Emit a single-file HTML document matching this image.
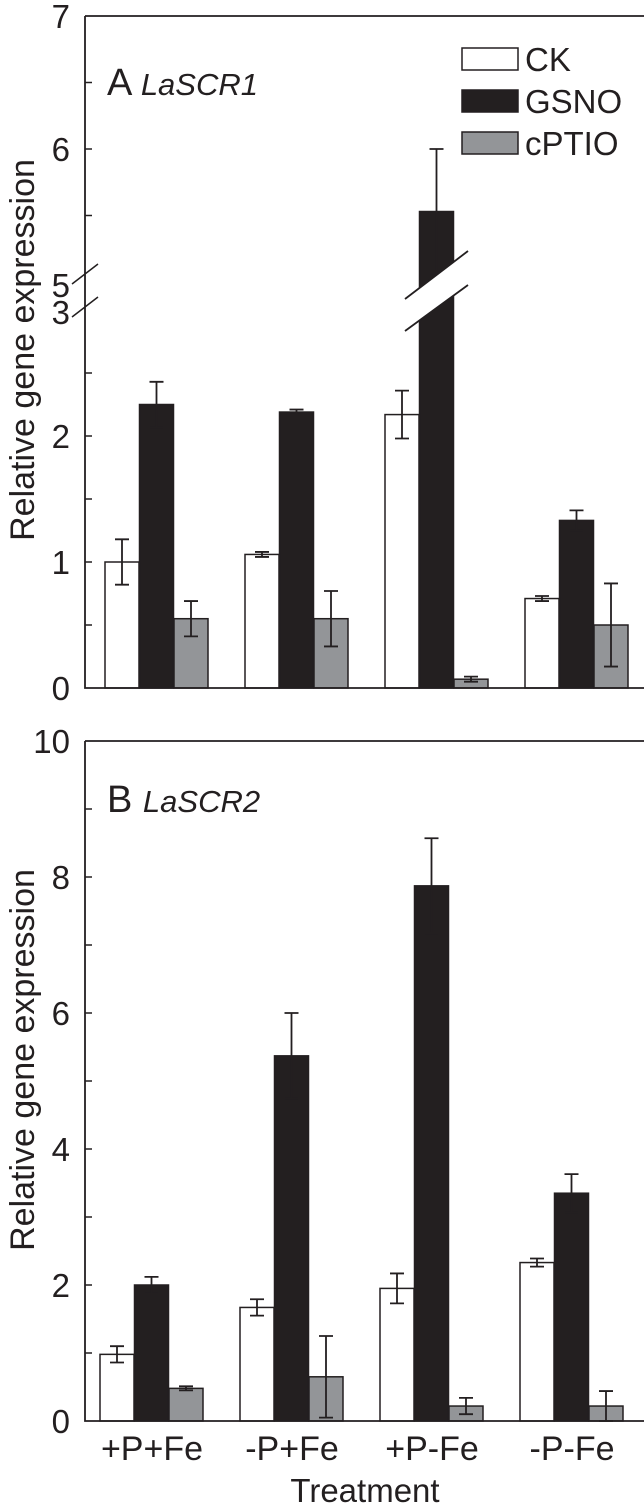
<!DOCTYPE html>
<html><head><meta charset="utf-8"><style>
html,body{margin:0;padding:0;background:#fff;}
svg{display:block;font-family:"Liberation Sans",sans-serif;}
</style></head><body>
<svg id="chart" width="644" height="1509" viewBox="0 0 644 1509" xmlns="http://www.w3.org/2000/svg"></svg>
<script>
const categories = ["+P+Fe","-P+Fe","+P-Fe","-P-Fe"];
const seriesNames = ["CK","GSNO","cPTIO"];
const aCK = [1.0,1.06,2.17,0.71];
const aCKErr = [0.18,0.02,0.19,0.02];
const aGSNO = [2.25,2.19,5.53,1.33];
const aGSNOErr = [0.18,0.02,0.47,0.08];
const aCPTIO = [0.55,0.55,0.07,0.5];
const aCPTIOErr = [0.14,0.22,0.02,0.33];
const bCK = [0.98,1.67,1.95,2.33];
const bCKErr = [0.12,0.12,0.22,0.06];
const bGSNO = [2.0,5.37,7.87,3.35];
const bGSNOErr = [0.12,0.63,0.7,0.28];
const bCPTIO = [0.48,0.65,0.22,0.22];
const bCPTIOErr = [0.03,0.6,0.12,0.22];
const aTicksLow = [0,1,2];
const aTicksHigh = [6,7];
const bTicks = [0,2,4,6,8,10];

const NS="http://www.w3.org/2000/svg";
const svg=document.getElementById('chart');
function mk(tag,attrs,parent){const e=document.createElementNS(NS,tag);for(const k in attrs)e.setAttribute(k,attrs[k]);(parent||svg).appendChild(e);return e;}
const fills=["#ffffff","#231f20","#939598"];
const TF=33;

function yA(v){ if(v<=3) return 688-v*126; return 282-(v-5)*133; }
function yB(v){ return 1421-v*68; }

function drawPanel(bottom,yf,data,errs,x0,name){
  const g=mk('g',{});
  
  
  for(let c=0;c<categories.length;c++){
    for(let s=0;s<3;s++){
      const v=data[s][c], e=errs[s][c];
      const x=x0+c*140+s*34.5;
      const yt=yf(v);
      const r=mk('rect',{x:x,y:yt,width:34,height:bottom-yt,fill:fills[s],stroke:"#231f20","stroke-width":1.5},g);
      
      
      const cx=x+17, y1=yf(v+e), y2=yf(Math.max(0,v-e));
      const eb=mk('path',{d:`M${cx} ${y1}V${y2}M${cx-7} ${y1}H${cx+7}M${cx-7} ${y2}H${cx+7}`,stroke:"#231f20","stroke-width":1.8,fill:"none"},g);
      
      
    }
  }
}

// Panel A
drawPanel(688,yA,[aCK,aGSNO,aCPTIO],[aCKErr,aGSNOErr,aCPTIOErr],105,'panel-a-bars');
const brk=mk('polygon',{points:"405,299 468,251 468,285 405,331",fill:"#fff"});


mk('path',{d:"M405 299L468 251M405 331L468 285",stroke:"#231f20","stroke-width":1.8});
const fa=mk('path',{d:"M85 16H644M85 16V688H644",fill:"none",stroke:"#231f20","stroke-width":1.8});


mk('path',{d:"M72 284L98 264M72 317L98 297",stroke:"#231f20","stroke-width":1.5});
[0.5,1,1.5,2,2.5].forEach(v=>mk('line',{x1:85,x2:92,y1:yA(v),y2:yA(v),stroke:"#231f20","stroke-width":1.5}));
[5.5,6,6.5].forEach(v=>mk('line',{x1:85,x2:92,y1:yA(v),y2:yA(v),stroke:"#231f20","stroke-width":1.5}));
aTicksLow.concat(aTicksHigh).forEach(v=>{const t=mk('text',{x:70,y:yA(v)+12,"font-size":TF,"text-anchor":"end",fill:"#231f20"});t.textContent=v;});
[["5",297],["3",324]].forEach(a=>{const t=mk('text',{x:70,y:a[1],"font-size":TF,"text-anchor":"end",fill:"#231f20"});t.textContent=a[0];});
let t=mk('text',{x:107,y:95,"font-size":38,fill:"#231f20"});
t.innerHTML='A <tspan font-style="italic" font-size="31">LaSCR1</tspan>';

t=mk('text',{transform:"translate(34,350) rotate(-90)","font-size":34,"text-anchor":"middle",fill:"#231f20"});t.textContent="Relative gene expression";

seriesNames.forEach((n,i)=>{
  const y=48+i*42;
  const r=mk('rect',{x:462,y:y,width:56,height:22,fill:fills[i],stroke:"#231f20","stroke-width":1.5});
  
  const tt=mk('text',{x:525,y:y+23,"font-size":33,fill:"#231f20"});tt.textContent=n;
  
});

// Panel B
drawPanel(1421,yB,[bCK,bGSNO,bCPTIO],[bCKErr,bGSNOErr,bCPTIOErr],100,'panel-b-bars');
const fb=mk('path',{d:"M85 741H644M85 741V1421H644",fill:"none",stroke:"#231f20","stroke-width":1.8});

[1,2,3,4,5,6,7,8,9].forEach(v=>mk('line',{x1:85,x2:92,y1:yB(v),y2:yB(v),stroke:"#231f20","stroke-width":1.5}));
bTicks.forEach(v=>{const tt=mk('text',{x:70,y:yB(v)+12,"font-size":TF,"text-anchor":"end",fill:"#231f20"});tt.textContent=v;});
t=mk('text',{x:107,y:812,"font-size":38,fill:"#231f20"});
t.innerHTML='B <tspan font-style="italic" font-size="31">LaSCR2</tspan>';

t=mk('text',{transform:"translate(34,1060) rotate(-90)","font-size":34,"text-anchor":"middle",fill:"#231f20"});t.textContent="Relative gene expression";

categories.forEach((c,i)=>{const tt=mk('text',{x:100+i*140+52,y:1460,"font-size":34,"text-anchor":"middle",fill:"#231f20"});tt.textContent=c;});
t=mk('text',{x:365,y:1502,"font-size":33,"text-anchor":"middle",fill:"#231f20"});t.textContent="Treatment";

</script>
</body></html>
